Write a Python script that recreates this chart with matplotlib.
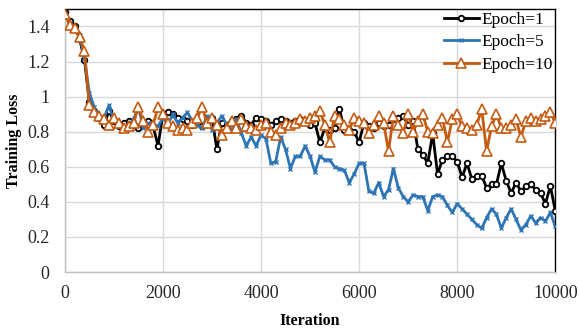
import matplotlib
matplotlib.use("Agg")
import matplotlib.pyplot as plt

iterations = list(range(0, 10001, 100))

epoch1 = [1.48, 1.43, 1.40, 1.33, 1.21, 0.97, 0.92, 0.88, 0.84, 0.92,
          0.86, 0.83, 0.85, 0.86, 0.84, 0.82, 0.85, 0.86, 0.83, 0.72,
          0.90, 0.91, 0.90, 0.88, 0.87, 0.86, 0.84, 0.85, 0.83, 0.86,
          0.88, 0.70, 0.85, 0.84, 0.86, 0.87, 0.89, 0.85, 0.84, 0.88,
          0.87, 0.86, 0.84, 0.86, 0.87, 0.86, 0.85, 0.86, 0.87, 0.86,
          0.84, 0.85, 0.74, 0.82, 0.81, 0.82, 0.93, 0.81, 0.81, 0.80,
          0.74, 0.85, 0.83, 0.82, 0.85, 0.83, 0.84, 0.87, 0.88, 0.89,
          0.84, 0.86, 0.70, 0.67, 0.62, 0.79, 0.56, 0.64, 0.66, 0.66,
          0.63, 0.54, 0.62, 0.53, 0.55, 0.55, 0.48, 0.50, 0.50, 0.62,
          0.52, 0.45, 0.51, 0.46, 0.49, 0.50, 0.47, 0.45, 0.39, 0.49,
          0.35]

epoch5 = [1.47, 1.42, 1.39, 1.35, 1.22, 1.02, 0.94, 0.89, 0.88, 0.95,
          0.86, 0.84, 0.82, 0.84, 0.87, 0.94, 0.82, 0.85, 0.84, 0.83,
          0.88, 0.84, 0.90, 0.85, 0.88, 0.91, 0.86, 0.84, 0.82, 0.89,
          0.81, 0.85, 0.89, 0.84, 0.81, 0.87, 0.79, 0.72, 0.77, 0.72,
          0.78, 0.76, 0.62, 0.63, 0.77, 0.70, 0.59, 0.66, 0.66, 0.72,
          0.66, 0.57, 0.66, 0.64, 0.64, 0.60, 0.59, 0.58, 0.51, 0.56,
          0.62, 0.62, 0.46, 0.45, 0.51, 0.43, 0.47, 0.59, 0.48, 0.43,
          0.40, 0.44, 0.43, 0.43, 0.35, 0.43, 0.44, 0.43, 0.38, 0.34,
          0.39, 0.36, 0.33, 0.30, 0.27, 0.25, 0.31, 0.36, 0.33, 0.25,
          0.31, 0.36, 0.30, 0.24, 0.27, 0.32, 0.28, 0.31, 0.29, 0.34,
          0.26]

epoch10 = [1.47, 1.41, 1.39, 1.34, 1.26, 0.95, 0.91, 0.89, 0.87, 0.84,
           0.88, 0.85, 0.82, 0.83, 0.85, 0.94, 0.86, 0.80, 0.84, 0.94,
           0.90, 0.85, 0.83, 0.81, 0.82, 0.81, 0.85, 0.88, 0.94, 0.85,
           0.88, 0.84, 0.78, 0.82, 0.86, 0.82, 0.87, 0.83, 0.82, 0.81,
           0.84, 0.85, 0.80, 0.78, 0.82, 0.85, 0.84, 0.85, 0.87, 0.86,
           0.88, 0.89, 0.92, 0.84, 0.74, 0.89, 0.87, 0.84, 0.81, 0.88,
           0.86, 0.85, 0.79, 0.84, 0.89, 0.85, 0.69, 0.89, 0.84, 0.79,
           0.90, 0.80, 0.86, 0.90, 0.80, 0.79, 0.84, 0.88, 0.74, 0.87,
           0.90, 0.83, 0.82, 0.81, 0.84, 0.93, 0.69, 0.83, 0.90, 0.82,
           0.82, 0.84, 0.87, 0.77, 0.86, 0.88, 0.86, 0.87, 0.89, 0.91,
           0.85]

series_labels = ["Epoch=1", "Epoch=5", "Epoch=10"]
x_ticks = [0, 2000, 4000, 6000, 8000, 10000]
y_ticks = [0, 0.2, 0.4, 0.6, 0.8, 1.0, 1.2, 1.4]
y_tick_labels = ["0", "0.2", "0.4", "0.6", "0.8", "1", "1.2", "1.4"]

plt.rcParams['font.family'] = ['Liberation Serif', 'DejaVu Serif']

fig = plt.figure(figsize=(5.79, 3.31), dpi=100)
ax = fig.add_axes([0.112, 0.178, 0.847, 0.795])

ax.plot(iterations, epoch1, color='black', lw=2.0, marker='o', ms=4,
        mfc='white', mec='black', mew=1.3, label=series_labels[0], zorder=3)
ax.plot(iterations, epoch5, color='#2E75B6', lw=2.0, marker='x', ms=3,
        mec='#2E75B6', mew=1.0, label=series_labels[1], zorder=4)
ax.plot(iterations, epoch10, color='#C55A11', lw=2.0, marker='^', ms=7,
        mfc='white', mec='#C55A11', mew=1.2, label=series_labels[2], zorder=5)

ax.set_xlim(0, 10000)
ax.set_ylim(0, 1.5)
ax.set_xticks(x_ticks)
ax.set_yticks(y_ticks)
ax.set_yticklabels(y_tick_labels)
ax.tick_params(axis='both', length=0, labelsize=13, colors='#262626')
ax.tick_params(axis='y', pad=11)
ax.tick_params(axis='x', pad=9)
ax.grid(True, color='#d9d9d9', lw=1.0)
ax.set_axisbelow(True)

for s in ['left', 'bottom']:
    ax.spines[s].set_color('#bfbfbf')
    ax.spines[s].set_linewidth(1.0)
for s in ['top', 'right']:
    ax.spines[s].set_color('black')
    ax.spines[s].set_linewidth(1.0)

ax.set_xlabel("Iteration", fontsize=11.5, fontweight='bold', labelpad=8)
ax.set_ylabel("Training Loss", fontsize=11.5, fontweight='bold', labelpad=4)

leg = ax.legend(loc='upper right', frameon=False, fontsize=12.5,
                handlelength=2.0, handletextpad=0.15, borderaxespad=0.0,
                borderpad=0.15, labelspacing=0.38)

fig.savefig("out.png", dpi=100)
